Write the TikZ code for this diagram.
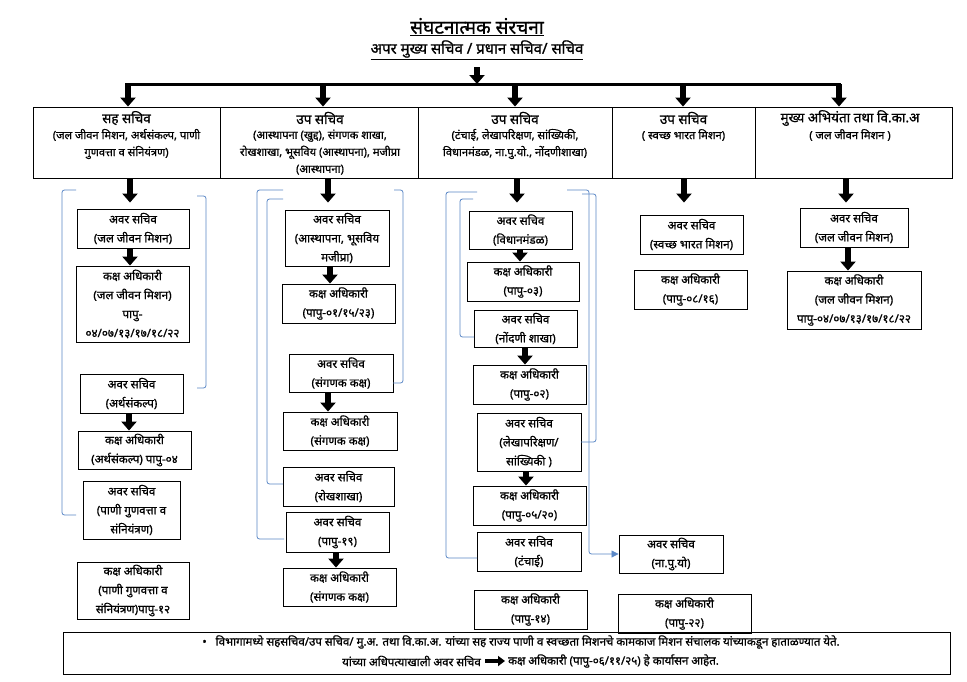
\documentclass[tikz,border=0pt]{standalone}
\usepackage{fontspec}
\setmainfont[Script=Devanagari,FakeBold=0.9]{Noto Sans}
\usetikzlibrary{arrows.meta}
\definecolor{brblue}{HTML}{5A87C6}
\newcommand\obox[6]{\node[box,minimum width={(#4-#2)*1pt},minimum height={(#5-#3)*1pt}] (#1) at ({(#2+#4)/2},{(#3+#5)/2}) {#6};}
\newcommand\ocell[5]{\node[cell,minimum width={(#4-#2)*1pt},minimum height={(#5-#3)*1pt}] (#1) at ({(#2+#4)/2},{(#3+#5)/2}) {};}
\begin{document}
\begin{tikzpicture}[x=1pt,y=-1pt,
  box/.style={draw=black,line width=0.9pt,inner sep=0pt,align=center,font=\fontsize{11.6}{19}\selectfont},
  cell/.style={draw=black,line width=0.9pt,inner sep=0pt},
  hdr/.style={inner sep=0pt,align=center,font=\fontsize{11.2}{17}\selectfont},
  hhead/.style={inner sep=0pt,font=\fontsize{13.5}{15}\selectfont},
  bigarrow/.style={line width=5.5pt,-{Triangle[width=15pt,length=9pt]}},
  brk/.style={draw=brblue,line width=0.8pt,rounded corners=2.5pt},
  foottext/.style={inner sep=0pt,font=\fontsize{11.5}{12}\selectfont},
]
\useasboundingbox[fill=white] (0,0) rectangle (967,681);

% titles
\node[inner sep=0pt,font=\fontsize{19}{21}\selectfont] (title) at (477,27) {\underline{संघटनात्मक संरचना}};
\node[inner sep=0pt,font=\fontsize{15}{17}\selectfont] (subtitle) at (477,50) {\underline{अपर मुख्य सचिव / प्रधान सचिव/ सचिव}};

% main distribution line
\coordinate (m1) at (125,84);
\coordinate (m5) at (841,84);
\coordinate (mt) at (477,67);
\draw[line width=3pt] (m1) -- (m5);
\draw[bigarrow] (mt) -- (mt |- m1);

% header cells
\ocell{h1}{33}{107}{220}{178}
\ocell{h2}{220}{107}{418}{178}
\ocell{h3}{418}{107}{612}{178}
\ocell{h4}{612}{107}{755}{178}
\ocell{h5}{755}{107}{952}{178}

\draw[bigarrow] (128,84) -- (128,0 |- h1.north);
\draw[bigarrow] (323,84) -- (323,0 |- h2.north);
\draw[bigarrow] (515,84) -- (515,0 |- h3.north);
\draw[bigarrow] (683,84) -- (683,0 |- h4.north);
\draw[bigarrow] (839,84) -- (839,0 |- h5.north);

\node[hhead] (t1) at (126.5,118) {सह सचिव};
\node[hdr] (s1) at (126.5,144) {(जल जीवन मिशन, अर्थसंकल्प, पाणी\\गुणवत्ता व संनियंत्रण)};
\node[hhead] (t2) at (320,118) {उप सचिव};
\node[hdr] (s2) at (320,152) {(आस्थापना (खुद्द), संगणक शाखा,\\रोखशाखा, भूसविय (आस्थापना), मजीप्रा\\(आस्थापना)};
\node[hhead] (t3) at (515,118) {उप सचिव};
\node[hdr] (s3) at (515,144) {(टंचाई, लेखापरिक्षण, सांख्यिकी,\\विधानमंडळ, ना.पु.यो., नोंदणीशाखा)};
\node[hhead] (t4) at (683.5,118) {उप सचिव};
\node[hdr] (s4) at (683.5,135) {( स्वच्छ भारत मिशन)};
\node[hhead] (t5) at (850,118) {मुख्य अभियंता तथा वि.का.अ};
\node[hdr] (s5) at (850,135) {( जल जीवन मिशन )};

% column 1
\obox{a1}{77}{209}{189}{248}{अवर सचिव\\(जल जीवन मिशन)}
\obox{k1}{76}{266}{189}{342}{कक्ष अधिकारी\\(जल जीवन मिशन)\\पापु-\\०४/०७/१३/१७/१८/२२}
\obox{a2}{80}{374}{183}{413}{अवर सचिव\\(अर्थसंकल्प)}
\obox{k2}{78}{431}{191}{469}{कक्ष अधिकारी\\(अर्थसंकल्प) पापु-०४}
\obox{a3}{83}{481}{180}{539}{अवर सचिव\\(पाणी गुणवत्ता व\\संनियंत्रण)}
\obox{k3}{77}{562}{189}{619}{कक्ष अधिकारी\\(पाणी गुणवत्ता व\\संनियंत्रण)पापु-१२}

% column 2
\obox{b1}{285}{210}{389}{266}{अवर सचिव\\(आस्थापना, भूसविय\\मजीप्रा)}
\obox{bk1}{282}{284}{395}{323}{कक्ष अधिकारी\\(पापु-०१/१५/२३)}
\obox{b2}{289}{354}{393}{392}{अवर सचिव\\(संगणक कक्ष)}
\obox{bk2}{283}{412}{397}{450}{कक्ष अधिकारी\\(संगणक कक्ष)}
\obox{b3}{283}{467}{394}{506}{अवर सचिव\\(रोखशाखा)}
\obox{b4}{286}{512}{389}{552}{अवर सचिव\\(पापु-१९)}
\obox{bk4}{283}{568}{396}{606}{कक्ष अधिकारी\\(संगणक कक्ष)}

% column 3
\obox{c1}{469}{211}{572}{249}{अवर सचिव\\(विधानमंडळ)}
\obox{ck1}{467}{262}{579}{301}{कक्ष अधिकारी\\(पापु-०३)}
\obox{c2}{474}{310}{577}{347}{अवर सचिव\\(नोंदणी शाखा)}
\obox{ck2}{473}{365}{586}{404}{कक्ष अधिकारी\\(पापु-०२)}
\obox{c3}{477}{413}{581}{471}{अवर सचिव\\(लेखापरिक्षण/\\सांख्यिकी )}
\obox{ck3}{473}{486}{586}{525}{कक्ष अधिकारी\\(पापु-०५/२०)}
\obox{c4}{477}{532}{581}{571}{अवर सचिव\\(टंचाई)}
\obox{ck4}{474}{590}{587}{629}{कक्ष अधिकारी\\(पापु-१४)}

% column 4
\obox{d1}{640}{215}{743}{254}{अवर सचिव\\(स्वच्छ भारत मिशन)}
\obox{dk1}{634}{270}{747}{309}{कक्ष अधिकारी\\(पापु-०८/१६)}
\obox{d2}{619}{535}{723}{573}{अवर सचिव\\(ना.पु.यो)}
\obox{dk2}{618}{594}{751}{633}{कक्ष अधिकारी\\(पापु-२२)}

% column 5
\obox{e1}{800}{208}{908}{247}{अवर सचिव\\(जल जीवन मिशन)}
\obox{ek1}{787}{271}{921}{329}{कक्ष अधिकारी\\(जल जीवन मिशन)\\पापु-०४/०७/१३/१७/१८/२२}

% arrows below header
\draw[bigarrow,shorten >=6pt] (130,0 |- h1.south) -- (130,0 |- a1.north);
\draw[bigarrow,shorten >=7pt] (328,0 |- h2.south) -- (328,0 |- b1.north);
\draw[bigarrow,shorten >=8pt] (517,0 |- h3.south) -- (517,0 |- c1.north);
\draw[bigarrow,shorten >=12pt] (684,0 |- h4.south) -- (684,0 |- d1.north);
\draw[bigarrow,shorten >=5pt] (846,0 |- h5.south) -- (846,0 |- e1.north);

% arrows between boxes
\draw[bigarrow] (130,0 |- a1.south) -- (130,0 |- k1.north);
\draw[bigarrow] (129,0 |- a2.south) -- (129,0 |- k2.north);
\draw[bigarrow] (330,0 |- b1.south) -- (330,0 |- bk1.north);
\draw[bigarrow] (328,0 |- b2.south) -- (328,0 |- bk2.north);
\draw[bigarrow] (336,0 |- b4.south) -- (336,0 |- bk4.north);
\draw[bigarrow] (520,0 |- c1.south) -- (520,0 |- ck1.north);
\draw[bigarrow] (525,0 |- c2.south) -- (525,0 |- ck2.north);
\draw[bigarrow] (526,0 |- c3.south) -- (526,0 |- ck3.north);
\draw[bigarrow] (848,0 |- e1.south) -- (848,0 |- ek1.north);

% blue brackets
\draw[brk] (76,190) -- (62,190) -- (62,515) -- (76,515);
\draw[brk] (197,196) -- (206,196) -- (206,388) -- (197,388);
\draw[brk] (283,190) -- (257,190) -- (257,539) -- (284,539);
\draw[brk] (283,199) -- (267,199) -- (267,484) -- (283,484);
\draw[brk] (394,190) -- (403,190) -- (403,383) -- (393,383);
\draw[brk] (477,192) -- (446,192) -- (446,558) -- (477,558);
\draw[brk] (473,199) -- (460,199) -- (460,337) -- (474,337);
\draw[brk] (582,194) -- (596,194) -- (596,442) -- (581,442);
\draw[brk,-{Triangle[width=7pt,length=7pt]}] (567,190) -- (589,190) -- (589,0 |- d2.west) -- (d2.west);

% footer
\ocell{foot}{63}{632}{950}{674}
\node[foottext] (f1) at (521,642) {•\hspace{9pt}विभागामध्ये सहसचिव/उप सचिव/ मु.अ. तथा वि.का.अ. यांच्या सह राज्य पाणी व स्वच्छता मिशनचे कामकाज मिशन संचालक यांच्याकडून हाताळण्यात येते.};
\node[foottext,anchor=east] (f2a) at (481,661) {यांच्या अधिपत्याखाली अवर सचिव};
\node[foottext,anchor=west] (f2b) at (508,661) {कक्ष अधिकारी (पापु-०६/११/२५) हे कार्यासन आहेत.};
\draw[line width=3.5pt,-{Triangle[width=10pt,length=7pt]},shorten <=4pt,shorten >=3pt] (f2a.east) -- (f2b.west);
\end{tikzpicture}
\end{document}
